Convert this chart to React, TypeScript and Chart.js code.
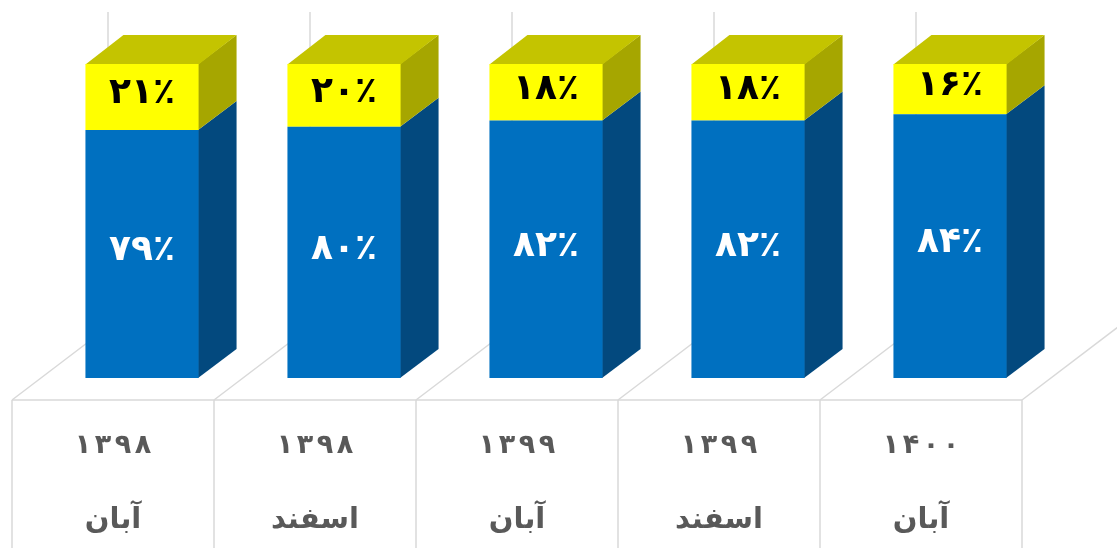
import React, { useEffect, useRef } from "react";
import { Chart, registerables } from "chart.js";

Chart.register(...registerables);

// ---- data ----
const years = ["۱۳۹۸", "۱۳۹۸", "۱۳۹۹", "۱۳۹۹", "۱۴۰۰"];
const months = ["آبان", "اسفند", "آبان", "اسفند", "آبان"];
const blueValues = [79, 80, 82, 82, 84];
const yellowValues = [21, 20, 18, 18, 16];

const toPersian = (v: number) =>
  String(v).replace(/[0-9]/g, (d) => "۰۱۲۳۴۵۶۷۸۹"[Number(d)]);
const pct = (v: number) => toPersian(v) + "٪";

// ---- styles ----
const FRONT = ["#0070C0", "#FFFF00"];
const SIDE = ["#03497E", "#A6A600"];
const TOP = ["#0070C0", "#C4C400"];
const LABEL_COLOR = ["#FFFFFF", "#000000"];
const GRID = "#D9D9D9";
const DX = 38, DY = 29; // bar depth
const FX = 96, FY = 73; // floor depth
const OX = 29, OY = 22; // bar front offset from floor front edge
const FONT = "'DejaVu Sans', 'Noto Sans', sans-serif";

const threeD = {
  id: "threeD",
  beforeDatasetsDraw(chart: any) {
    const { ctx, chartArea } = chart;
    const n = chart.data.labels.length;
    const xs = chart.scales.x;
    const step = xs.getPixelForValue(1) - xs.getPixelForValue(0);
    const frontLeft = xs.getPixelForValue(0) - step / 2 - OX;
    const frontY = chartArea.bottom + OY;
    const backY = frontY - FY;
    ctx.save();
    ctx.strokeStyle = GRID;
    ctx.lineWidth = 1.5;
    for (let i = 0; i <= n; i++) {
      const fx = frontLeft + i * step;
      ctx.beginPath();
      ctx.moveTo(fx + FX, chartArea.top - 52);
      ctx.lineTo(fx + FX, backY);
      ctx.stroke();
      ctx.beginPath();
      ctx.moveTo(fx, frontY);
      ctx.lineTo(fx + FX, backY);
      ctx.stroke();
      ctx.beginPath();
      ctx.moveTo(fx, frontY);
      ctx.lineTo(fx, chart.height);
      ctx.stroke();
    }
    ctx.beginPath();
    ctx.moveTo(frontLeft, frontY);
    ctx.lineTo(frontLeft + n * step, frontY);
    ctx.stroke();

    const nd = chart.data.datasets.length;
    for (let d = 0; d < nd; d++) {
      const meta = chart.getDatasetMeta(d);
      meta.data.forEach((el: any) => {
        const L = el.x - el.width / 2;
        const R = el.x + el.width / 2;
        const top = Math.min(el.y, el.base);
        const bot = Math.max(el.y, el.base);
        ctx.fillStyle = SIDE[d];
        ctx.beginPath();
        ctx.moveTo(R - 0.5, top);
        ctx.lineTo(R + DX, top - DY);
        ctx.lineTo(R + DX, bot - DY);
        ctx.lineTo(R - 0.5, bot);
        ctx.closePath();
        ctx.fill();
        if (d === nd - 1) {
          ctx.fillStyle = TOP[d];
          ctx.beginPath();
          ctx.moveTo(L, top + 0.5);
          ctx.lineTo(L + DX, top - DY);
          ctx.lineTo(R + DX, top - DY);
          ctx.lineTo(R, top + 0.5);
          ctx.closePath();
          ctx.fill();
        }
      });
    }
    ctx.restore();
  },
  afterDatasetsDraw(chart: any) {
    const { ctx, chartArea } = chart;
    const xs = chart.scales.x;
    ctx.save();
    ctx.textAlign = "center";
    ctx.textBaseline = "middle";
    ctx.direction = "ltr";
    chart.data.datasets.forEach((ds: any, d: number) => {
      const meta = chart.getDatasetMeta(d);
      ctx.fillStyle = LABEL_COLOR[d];
      ctx.font = `bold 36px ${FONT}`;
      meta.data.forEach((el: any, i: number) => {
        ctx.fillText(pct(ds.data[i]), el.x, (el.y + el.base) / 2 - 3);
      });
    });
    const frontY = chartArea.bottom + OY;
    ctx.fillStyle = "#595959";
    years.forEach((y, i) => {
      const x = xs.getPixelForValue(i) - OX;
      ctx.font = `bold 27px ${FONT}`;
      ctx.direction = "ltr";
      const chars = Array.from(y);
      const gap = 20;
      chars.forEach((c, k) => {
        ctx.fillText(c, x + (k - (chars.length - 1) / 2) * gap, frontY + 46);
      });
      ctx.font = `bold 29px ${FONT}`;
      ctx.direction = "rtl";
      ctx.fillText(months[i], x, frontY + 120);
    });
    ctx.restore();
  },
};

export default function App() {
  const ref = useRef<HTMLCanvasElement>(null);
  useEffect(() => {
    document.body.style.margin = "0";
    const chart = new Chart(ref.current!, {
      type: "bar",
      data: {
        labels: years.map((y, i) => [y, months[i]]),
        datasets: [
          {
            data: blueValues,
            backgroundColor: FRONT[0],
            borderWidth: 0,
            barPercentage: 0.56,
            categoryPercentage: 1,
          },
          {
            data: yellowValues,
            backgroundColor: FRONT[1],
            borderWidth: 0,
            barPercentage: 0.56,
            categoryPercentage: 1,
          },
        ],
      },
      options: {
        responsive: false,
        animation: false,
        devicePixelRatio: 1,
        layout: { padding: { left: 41, right: 66, top: 64, bottom: 170 } },
        plugins: { legend: { display: false }, tooltip: { enabled: false } },
        scales: {
          x: { stacked: true, display: false },
          y: { stacked: true, display: false, min: 0, max: 100 },
        },
      },
      plugins: [threeD],
    });
    return () => chart.destroy();
  }, []);
  return (
    <div style={{ position: "absolute", left: 0, top: 0, width: 1117, height: 548 }}>
      <canvas ref={ref} width={1117} height={548} />
    </div>
  );
}
